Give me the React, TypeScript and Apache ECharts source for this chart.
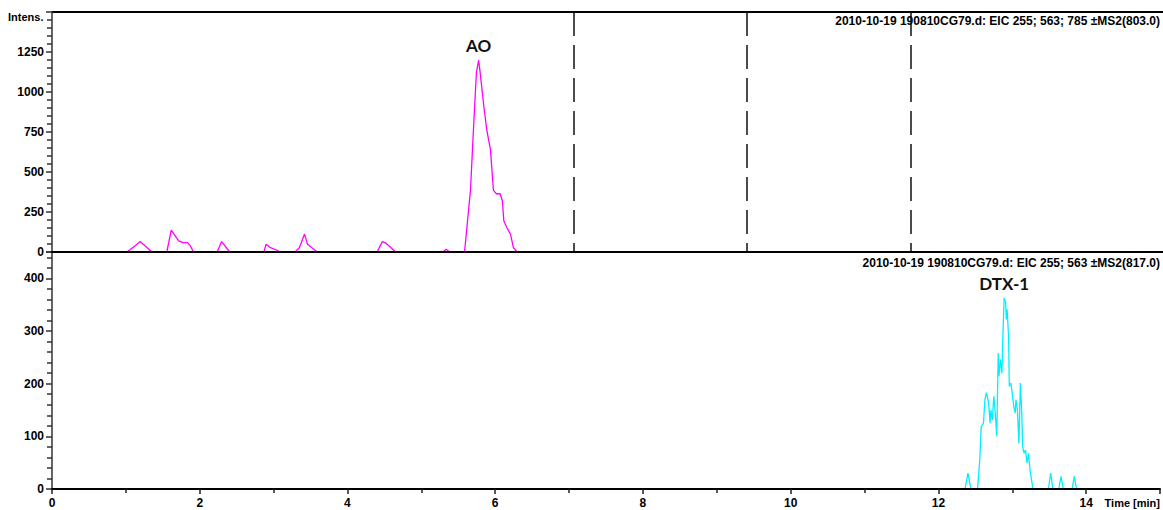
import React, { useEffect, useRef } from "react";
import * as echarts from "echarts";

// Extracted ion chromatogram, trace 1 (AO): retention time [min] and intensity
const aoTime = [
  0, 1.01, 1.12, 1.19, 1.35, 1.55, 1.61, 1.71, 1.77, 1.83, 1.87, 1.91, 2.23, 2.29, 2.4,
  2.86, 2.89, 2.95, 3.04, 3.08, 3.28, 3.34, 3.41, 3.45, 3.51, 3.58, 4.39, 4.46, 4.51,
  4.64, 5.28, 5.32, 5.37, 5.57, 5.65, 5.69, 5.73, 5.76, 5.78, 5.83, 5.87, 5.92, 5.96,
  6.0, 6.05, 6.08, 6.1, 6.14, 6.19, 6.23, 6.28, 15,
];
const aoIntensity = [
  0, 0, 38, 65, 0, 0, 137, 70, 59, 59, 38, 0, 0, 65, 0,
  0, 48, 27, 11, 0, 0, 27, 112, 48, 27, 0, 0, 65, 55,
  0, 0, 17, 0, 0, 385, 764, 1122, 1200, 1124, 911, 764, 638, 385,
  364, 364, 322, 196, 153, 112, 27, 0, 0,
];

// Extracted ion chromatogram, trace 2 (DTX-1)
const dtxTime = [
  0, 12.36, 12.4, 12.44, 12.53, 12.56, 12.58, 12.61, 12.63, 12.65, 12.68, 12.7, 12.71,
  12.73, 12.75, 12.77, 12.79, 12.81, 12.82, 12.84, 12.86, 12.87, 12.89, 12.91, 12.92,
  12.93, 12.95, 12.96, 12.98, 13.0, 13.02, 13.04, 13.05, 13.07, 13.09, 13.11, 13.13,
  13.14, 13.16, 13.18, 13.2, 13.22, 13.24, 13.28, 13.49, 13.52, 13.55, 13.63, 13.66,
  13.69, 13.81, 13.84, 13.87, 15,
];
const dtxIntensity = [
  0, 0, 30, 0, 0, 55, 119, 125, 170, 183, 163, 125, 150,
  131, 176, 144, 100, 258, 214, 246, 220, 277, 363, 354, 322,
  341, 290, 195, 201, 182, 157, 144, 170, 150, 87, 201, 138,
  81, 68, 74, 49, 68, 36, 0, 0, 30, 0, 0, 24,
  0, 0, 24, 0, 0,
];

// Acquisition segment boundaries [min]
const segmentBreaks = [7.04, 9.38, 11.59];

// Y-axis ranges and tick steps
const topMax = 1500;
const topStep = 250;
const bottomMax = 450;
const bottomStep = 100;
const timeMax = 15;
const timeStep = 2;

const traceTitles = [
  "2010-10-19 190810CG79.d: EIC 255; 563; 785 ±MS2(803.0)",
  "2010-10-19 190810CG79.d: EIC 255; 563 ±MS2(817.0)",
];
const peakNames = ["AO", "DTX-1"];

const FONT = "Liberation Sans, Arial, sans-serif";

function pairs(xs: number[], ys: number[]) {
  return xs.map((x, i) => [x, ys[i]]);
}

function peakOf(xs: number[], ys: number[]) {
  let k = 0;
  ys.forEach((v, i) => {
    if (v > ys[k]) k = i;
  });
  return [xs[k], ys[k]];
}

export default function App() {
  const ref = useRef<HTMLDivElement>(null);

  useEffect(() => {
    if (!ref.current) return;
    const chart = echarts.init(ref.current, null, { renderer: "svg" });

    const tickLabel = {
      color: "#000",
      fontFamily: FONT,
      fontWeight: "bold" as const,
      fontSize: 12,
    };

    const aoPeak = peakOf(aoTime, aoIntensity);
    const dtxPeak = peakOf(dtxTime, dtxIntensity);

    const peakLabel = (name: string) => ({
      symbol: "circle",
      symbolSize: 0,
      silent: true,
      label: {
        show: true,
        position: "top" as const,
        distance: 6,
        formatter: name,
        color: "#111",
        fontFamily: "Lato, Open Sans, sans-serif",
        fontWeight: "bold" as const,
        fontSize: 17,
      },
    });

    chart.setOption({
      animation: false,
      backgroundColor: "#fff",
      grid: [
        { left: 52, right: 0, top: 12, height: 240 },
        { left: 52, right: 0, top: 252, height: 237 },
      ],
      xAxis: [
        {
          type: "value",
          gridIndex: 0,
          min: 0,
          max: timeMax,
          interval: timeStep,
          z: 5,
          axisLine: { show: true, onZero: false, lineStyle: { color: "#000", width: 2 } },
          axisTick: { show: false },
          axisLabel: { show: false },
          splitLine: { show: false },
        },
        {
          type: "value",
          gridIndex: 1,
          min: 0,
          max: timeMax,
          interval: timeStep,
          z: 5,
          axisLine: { show: true, onZero: false, lineStyle: { color: "#000", width: 2 } },
          axisTick: { show: true, length: 5, lineStyle: { color: "#222", width: 1.5 } },
          minorTick: { show: true, splitNumber: 2, length: 4, lineStyle: { color: "#222", width: 1.5 } },
          axisLabel: {
            ...tickLabel,
            margin: 8,
            formatter: (v: number) => (v % timeStep === 0 ? String(v) : ""),
          },
          splitLine: { show: false },
        },
      ],
      yAxis: [
        {
          type: "value",
          gridIndex: 0,
          min: 0,
          max: topMax,
          interval: topStep,
          z: 4,
          axisLine: { show: true, lineStyle: { color: "#333", width: 1.5 } },
          axisTick: { show: true, length: 6, lineStyle: { color: "#333", width: 1.5 } },
          minorTick: { show: true, splitNumber: 5, length: 5, lineStyle: { color: "#333", width: 1.5 } },
          axisLabel: {
            ...tickLabel,
            margin: 8,
            formatter: (v: number) => (v >= topMax ? "" : String(v)),
          },
          splitLine: { show: false },
        },
        {
          type: "value",
          gridIndex: 1,
          min: 0,
          max: bottomMax,
          interval: bottomStep,
          axisLine: { show: true, lineStyle: { color: "#333", width: 1.5 } },
          axisTick: { show: true, length: 6, lineStyle: { color: "#333", width: 1.5 } },
          minorTick: { show: true, splitNumber: 5, length: 5, lineStyle: { color: "#333", width: 1.5 } },
          axisLabel: {
            ...tickLabel,
            margin: 8,
            formatter: (v: number) => (v % bottomStep === 0 ? String(v) : ""),
          },
          splitLine: { show: false },
        },
      ],
      series: [
        {
          type: "line",
          xAxisIndex: 0,
          yAxisIndex: 0,
          data: pairs(aoTime, aoIntensity),
          showSymbol: false,
          symbol: "none",
          lineStyle: { color: "#ff00ff", width: 1.3 },
          markLine: {
            silent: true,
            symbol: ["none", "none"],
            label: { show: false },
            lineStyle: { color: "#111", width: 1.5, type: [24, 9], dashOffset: 15 },
            data: segmentBreaks.map((t) => ({ xAxis: t })),
          },
          markPoint: {
            ...peakLabel(peakNames[0]),
            data: [{ coord: aoPeak }],
          },
        },
        {
          type: "line",
          xAxisIndex: 1,
          yAxisIndex: 1,
          data: pairs(dtxTime, dtxIntensity),
          showSymbol: false,
          symbol: "none",
          lineStyle: { color: "#00f0ff", width: 1.3 },
          markPoint: {
            ...peakLabel(peakNames[1]),
            data: [{ coord: dtxPeak }],
          },
        },
      ],
      graphic: [
        {
          type: "line",
          shape: { x1: 52, y1: 12, x2: 1163, y2: 12 },
          style: { stroke: "#000", lineWidth: 2 },
          silent: true,
        },
        {
          type: "text",
          x: 8,
          y: 17,
          style: {
            text: "Intens.",
            fill: "#000",
            font: `bold 11px ${FONT}`,
            textVerticalAlign: "middle",
          },
        },
        {
          type: "text",
          x: 1160,
          y: 21,
          style: {
            text: traceTitles[0],
            fill: "#000",
            font: `bold 12px ${FONT}`,
            textAlign: "right",
            textVerticalAlign: "middle",
          },
        },
        {
          type: "text",
          x: 1160,
          y: 263,
          style: {
            text: traceTitles[1],
            fill: "#000",
            font: `bold 12px ${FONT}`,
            textAlign: "right",
            textVerticalAlign: "middle",
          },
        },
        {
          type: "text",
          x: 1160,
          y: 503,
          style: {
            text: "Time [min]",
            fill: "#000",
            font: `bold 11px ${FONT}`,
            textAlign: "right",
            textVerticalAlign: "middle",
          },
        },
      ],
    });

    return () => chart.dispose();
  }, []);

  return (
    <div
      ref={ref}
      style={{ position: "absolute", left: 0, top: 0, width: 1163, height: 510 }}
    />
  );
}
